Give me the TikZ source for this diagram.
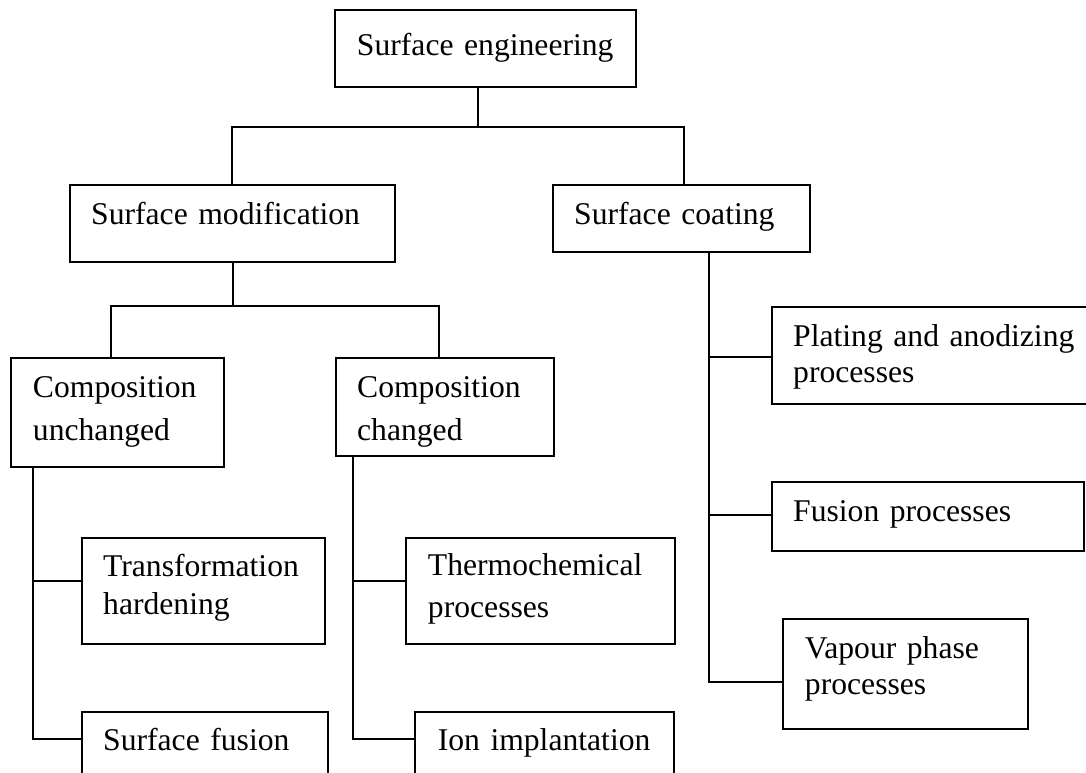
\documentclass[tikz,border=0pt]{standalone}
\usepackage{fontspec}
\setmainfont{Liberation Serif}
\usetikzlibrary{positioning}

\begin{document}
\begin{tikzpicture}[
	x=0.025cm, y=-0.025cm,
	% Styles des cadres et des liens
	blok/.style={draw=black, line width=1.4pt, anchor=north west, inner xsep=0.53cm, inner ysep=0pt, align=left, text height=1cm, font=\fontsize{22.5}{25}\selectfont},
	interligne/.style={font=\fontsize{22.5}{#1}\selectfont},
	lien/.style={draw=black, line width=1.4pt},
	]
	
	\useasboundingbox (0,0) rectangle (1086,773);
	\clip (0,0) rectangle (1086,773);
	
	% niveau 1
	\node[blok, text width=6.425cm, inner xsep=0.55cm, text height=1.15cm, text depth=0.775cm] (ingenierie) at (334,9) {Surface engineering};
	
	% niveau 2
	\node[blok, text width=7.065cm, text depth=0.925cm] (modif) at (69,184) {Surface modification};
	\node[blok, text width=5.365cm, text depth=0.675cm] (revet) at (552,184) {Surface coating};
	
	% niveau 3
	\node[blok, interligne=29.9, text width=4.225cm, inner xsep=0.55cm, text depth=1.725cm] (inchange) at (10,357) {Composition\\unchanged};
	\node[blok, interligne=29.9, text width=4.39cm, text depth=1.45cm] (change) at (335,357) {Composition\\changed};
	
	\node[blok, text width=7.165cm, text depth=1.425cm] (placage) at (771,306) {Plating and anodizing\\processes};
	\node[blok, text width=6.74cm, text depth=0.725cm] (fusion) at (771,481) {Fusion processes};
	\node[blok, text width=5.025cm, inner xsep=0.55cm, text depth=1.75cm] (vapeur) at (782,618) {Vapour phase\\processes};
	
	% niveau 4
	\node[blok, interligne=27, text width=5.015cm, text height=0.975cm, text depth=1.675cm] (transfo) at (81,537) {Transformation\\hardening};
	\node[blok, interligne=29.5, text width=5.625cm, inner xsep=0.55cm, text height=0.95cm, text depth=1.7cm] (thermo) at (405,537) {Thermochemical\\processes};
	\node[blok, text width=5.09cm, text height=0.975cm, text depth=1.025cm] (fusionsurf) at (81,711) {Surface fusion};
	\node[blok, text width=5.335cm, inner xsep=0.57cm, text height=0.975cm, text depth=1.025cm] (ions) at (414,711) {Ion implantation};
	
	% liens
	\coordinate (a1) at (478,127);
	\coordinate (a2) at (232,127);
	\coordinate (a3) at (684,127);
	\draw[lien] (ingenierie.south -| a1) -- (a1);
	\draw[lien] (modif.north -| a2) -- (a2) -- (a3) -- (a3 |- revet.north);
	
	\coordinate (b1) at (111,306);
	\coordinate (b2) at (439,306);
	\draw[lien] (modif.south) -- (modif.south |- b1);
	\draw[lien] (b1 |- inchange.north) -- (b1) -- (b2) -- (b2 |- change.north);
	
	\coordinate (c1) at (33,581);
	\coordinate (c2) at (33,739);
	\draw[lien] (c1 |- inchange.south) -- (c2) -- (c2 -| fusionsurf.west);
	\draw[lien] (c1) -- (c1 -| transfo.west);
	
	\coordinate (d1) at (353,581);
	\coordinate (d2) at (353,739);
	\draw[lien] (d1 |- change.south) -- (d2) -- (d2 -| ions.west);
	\draw[lien] (d1) -- (d1 -| thermo.west);
	
	\coordinate (e1) at (709,357);
	\coordinate (e2) at (709,515);
	\coordinate (e3) at (709,682);
	\draw[lien] (e1 |- revet.south) -- (e3) -- (e3 -| vapeur.west);
	\draw[lien] (e1) -- (e1 -| placage.west);
	\draw[lien] (e2) -- (e2 -| fusion.west);
\end{tikzpicture}
\end{document}
